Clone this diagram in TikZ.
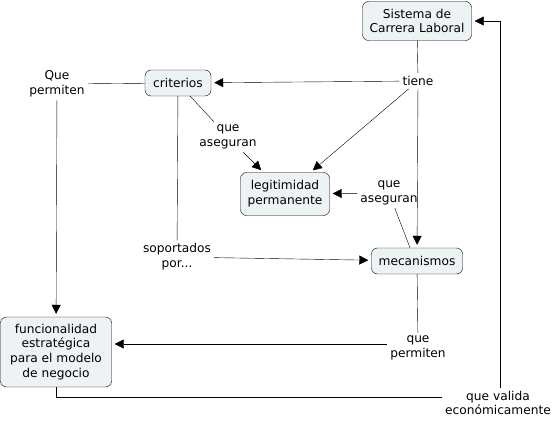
\documentclass[tikz,border=0pt]{standalone}
\usepackage{fontspec}
\setmainfont{DejaVu Sans}
\usetikzlibrary{arrows.meta}
\definecolor{conceptfill}{HTML}{EDF3F4}

\begin{document}
\begin{tikzpicture}[x=1pt,y=-1pt,thin,
      every node/.style={font=\fontsize{12.2}{14.8}\selectfont,align=center},
      concept/.style={draw,rounded corners=6pt,fill=conceptfill,inner sep=3pt},
      linkword/.style={inner sep=3pt,fill=white},
      arr/.style={-{Triangle[length=9pt,width=9pt]},shorten >=3pt}]

      \useasboundingbox (0,0) rectangle (554,425);

      % concepts
      \node[concept,minimum width=109pt,minimum height=39pt] (sys) at (417,21) {Sistema de\\Carrera Laboral};
      \node[concept,minimum width=66pt,minimum height=26pt] (crit) at (178,83) {criterios};
      \node[concept,minimum width=89pt,minimum height=43pt] (legit) at (285,194) {legitimidad\\permanente};
      \node[concept,minimum width=91pt,minimum height=26pt] (meca) at (417,261) {mecanismos};
      \node[concept,minimum width=111pt,minimum height=70pt] (func) at (56,352) {funcionalidad\\estratégica\\para el modelo\\de negocio};

      % linking words
      \node[linkword] (tiene) at (418,81) {tiene};
      \node[linkword] (qperm1) at (57,84) {Que\\permiten};
      \node[linkword] (aseg1) at (228,137) {que\\aseguran};
      \node[linkword] (aseg2) at (389,193) {que\\aseguran};
      \node[linkword] (sop) at (177,257) {soportados\\por...};
      \node[linkword] (qperm2) at (418,348) {que\\permiten};
      \node[linkword] (valida) at (498,403) {que valida\\económicamente};

      % connections
      \draw (sys) -- (tiene);
      \draw[arr] (tiene) -- (crit);
      \draw[arr] (tiene) -- (legit);
      \draw[arr] (tiene) -- (meca);
      \draw (crit) -- (aseg1);
      \draw[arr] (aseg1) -- (legit);
      \draw (crit) -- (sop);
      \draw[arr] (sop) -- (meca);
      \draw (crit) -- (qperm1);
      \draw[arr] (qperm1) -- (func);
      \draw ([xshift=-7pt]meca.north) -- (aseg2);
      \draw[arr] (aseg2) -- (legit);
      \draw (meca) -- (qperm2);
      \draw[arr] ([yshift=4pt]qperm2.west) -- ([yshift=4pt]qperm2.west -| func.east);
      \draw (func) |- ([yshift=6pt]valida.west);
      \draw[arr] ([xshift=2pt]valida.north) |- (sys.east);
\end{tikzpicture}
\end{document}
